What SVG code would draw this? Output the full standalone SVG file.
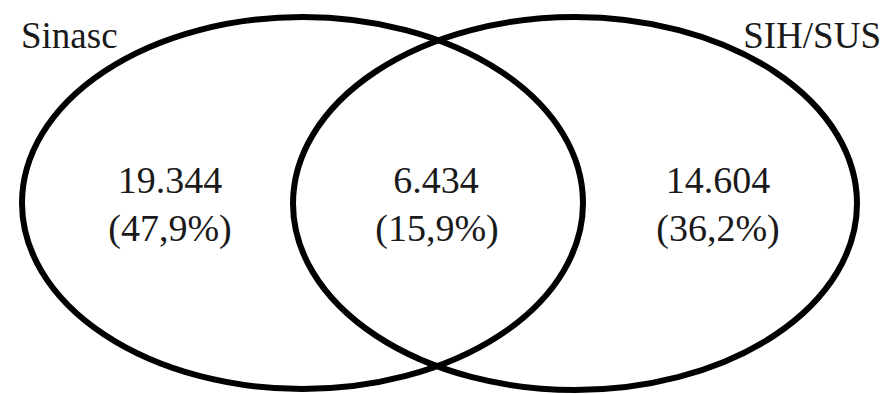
<svg xmlns="http://www.w3.org/2000/svg" width="888" height="394" viewBox="0 0 888 394">
<style>
.set{fill:none;stroke:#000;stroke-width:6}
text{font-family:'Liberation Serif','Times New Roman','DejaVu Serif',serif;fill:#1a1a1a}
.lab{font-size:37px}
.num{font-size:38px;text-anchor:middle}
</style>
<rect width="888" height="394" fill="#fff"/>
<g id="sinasc">
<ellipse class="set" cx="302.5" cy="203" rx="280.5" ry="186"/>
<text class="lab" x="21" y="48" font-family="Liberation Serif, serif">Sinasc</text>
<text class="num" x="170" y="193" font-family="Liberation Serif, serif">19.344</text>
<text class="num" x="170" y="241" font-family="Liberation Serif, serif">(47,9%)</text>
</g>
<g id="sihsus">
<ellipse class="set" cx="575" cy="203.5" rx="282" ry="186.5"/>
<text class="lab" x="881" y="48" text-anchor="end" font-family="Liberation Serif, serif">SIH/SUS</text>
<text class="num" x="718" y="193" font-family="Liberation Serif, serif">14.604</text>
<text class="num" x="718" y="241" font-family="Liberation Serif, serif">(36,2%)</text>
</g>
<g id="intersection">
<text class="num" x="436" y="193" font-family="Liberation Serif, serif">6.434</text>
<text class="num" x="437" y="241" font-family="Liberation Serif, serif">(15,9%)</text>
</g>
<g id="connectors"/>
</svg>
